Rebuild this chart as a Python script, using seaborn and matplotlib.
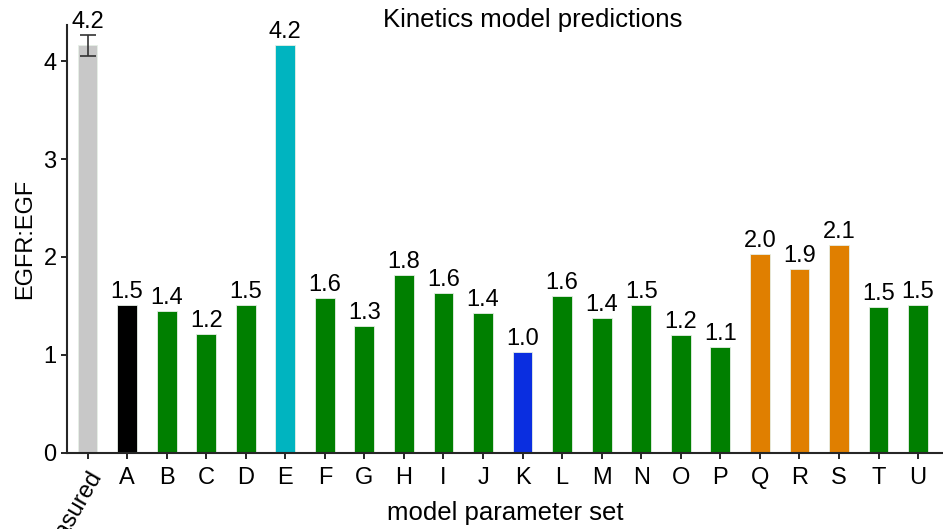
import matplotlib
matplotlib.use("Agg")
import matplotlib.pyplot as plt
import seaborn as sns
import pandas as pd

# -- data
labels = ["measured", "A", "B", "C", "D", "E", "F", "G", "H", "I", "J",
          "K", "L", "M", "N", "O", "P", "Q", "R", "S", "T", "U"]
values = [4.16, 1.51, 1.45, 1.21, 1.51, 4.16, 1.58, 1.30, 1.82, 1.63, 1.43,
          1.03, 1.60, 1.38, 1.51, 1.20, 1.08, 2.03, 1.88, 2.12, 1.49, 1.51]
groups = ["measured", "A", "green", "green", "green", "E", "green", "green",
          "green", "green", "green", "K", "green", "green", "green", "green",
          "green", "orange", "orange", "orange", "green", "green"]
measured_err = 0.11

colors = {"measured": "#c8c8c8", "A": "#000000", "green": "#007f00",
          "E": "#00b4c0", "K": "#0a2ee0", "orange": "#e07f00"}

df = pd.DataFrame({"set": labels, "value": values, "group": groups})

sns.set_style("ticks")
plt.rcParams["font.family"] = ["Liberation Sans", "DejaVu Sans"]
plt.rcParams["text.color"] = "black"
plt.rcParams["axes.labelcolor"] = "black"
plt.rcParams["xtick.color"] = "black"
plt.rcParams["ytick.color"] = "black"

fig = plt.figure(figsize=(9.43, 5.29), dpi=100)
ax = fig.add_axes([0.071, 0.144, 0.929, 0.809])

sns.barplot(data=df, x="set", y="value", hue="group", palette=colors,
            dodge=False, width=0.5, saturation=1, edgecolor="#e6efe6",
            linewidth=0.6, legend=False, ax=ax)

# error bar on the measured value
ax.errorbar(0, values[0], yerr=measured_err, fmt="none", ecolor="#333333",
            elinewidth=1.2, capsize=6, capthick=1.2)

# value labels
for i, v in enumerate(values):
    y = v + (measured_err if i == 0 else 0) + 0.02
    ax.text(i, y, f"{v:.1f}", ha="center", va="bottom", fontsize=17)

ax.set_xlim(-0.52, 21.63)
ax.set_ylim(0, 4.37)
ax.set_yticks([0, 1, 2, 3, 4])
ax.tick_params(axis="both", labelsize=17, direction="out", length=4,
               width=1.2)
ax.tick_params(axis="x", pad=6)
for lbl in ax.get_xticklabels():
    if lbl.get_text() == "measured":
        lbl.set_rotation(60)
        lbl.set_ha("right")
        lbl.set_rotation_mode("anchor")

ax.set_xlabel("model parameter set", fontsize=18.5, va="center")
ax.xaxis.set_label_coords(0.5, -0.14)
ax.set_ylabel("EGFR:EGF", fontsize=17, labelpad=5)
ax.spines["top"].set_visible(False)
ax.spines["right"].set_visible(False)
ax.spines["left"].set_linewidth(1.5)
ax.spines["bottom"].set_linewidth(1.5)

fig.text(0.565, 0.962, "Kinetics model predictions", ha="center", va="center",
         fontsize=18.5)

fig.savefig("out.png", dpi=100)
